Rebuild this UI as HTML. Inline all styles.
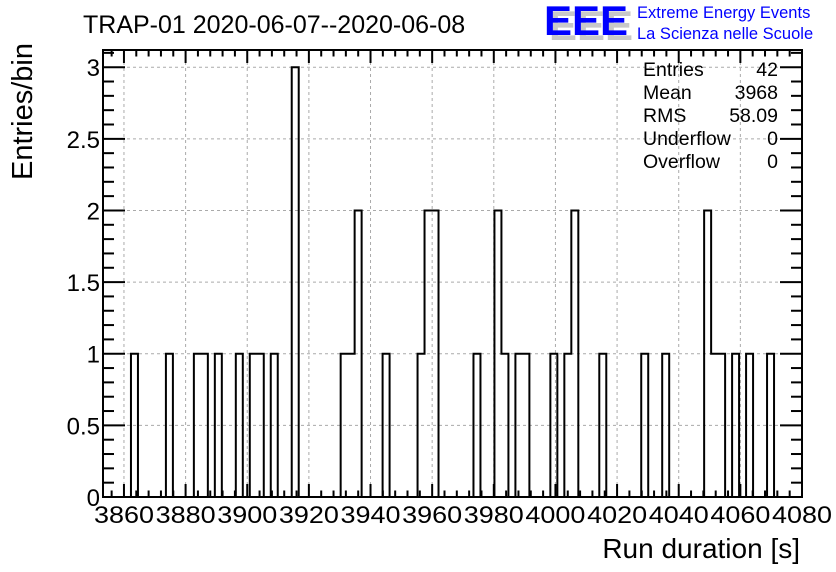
<!DOCTYPE html>
<html><head><meta charset="utf-8"><style>
html,body{margin:0;padding:0;background:#fff;}
svg{display:block;font-family:"Liberation Sans",sans-serif;}
</style></head><body>
<svg id="chart" width="836" height="572" viewBox="0 0 836 572">
<text x="83" y="33" font-size="25">TRAP-01 2020-06-07--2020-06-08</text>
<g>
<text x="549" y="40" font-size="42" font-weight="bold" fill="#c8c8c8">EEE</text>
<text x="544" y="35" font-size="42" font-weight="bold" fill="#0000ff">EEE</text>
<text x="637" y="18" font-size="16.5" fill="#0000ff">Extreme Energy Events</text>
<text x="637" y="39" font-size="16.5" fill="#0000ff">La Scienza nelle Scuole</text>
</g>
<g id="grid"></g>
<g id="ticks"></g>
<path id="hist" fill="none" stroke="#000" stroke-width="2"/>
<rect x="103" y="50" width="699" height="447" fill="none" stroke="#000" stroke-width="2"/>
<g id="labels"></g>
<text x="800" y="558" font-size="28" text-anchor="end">Run duration [s]</text>
<text transform="translate(32,43) rotate(-90)" font-size="29" text-anchor="end">Entries/bin</text>
<g id="stats" font-size="19.5"></g>
</svg>
<script>
const xMin = 3853.2, xMax = 4080, nBins = 100;
const yMax = 3.12;
const filledBins = [4,9,13,14,16,19,21,22,24,27,34,35,36,40,45,46,47,53,56,57,59,60,64,66,67,71,77,80,86,87,88,90,92,95];
const filledCounts = [1,1,1,1,1,1,1,1,1,3,1,1,2,1,1,2,2,1,2,1,1,1,1,1,2,1,1,1,2,1,1,1,1,1];
const xTickLabels = [3860,3880,3900,3920,3940,3960,3980,4000,4020,4040,4060,4080];
const yTickLabels = [0,0.5,1,1.5,2,2.5,3];
const statNames = ["Entries","Mean","RMS","Underflow","Overflow"];
const statValues = ["42","3968","58.09","0","0"];

const L=103,R=802,T=50,B=497;
const sx=v=>L+(v-xMin)/(xMax-xMin)*(R-L);
const sy=v=>B-v/yMax*(B-T);
const NS="http://www.w3.org/2000/svg";
function mk(tag,parent,attrs){const e=document.createElementNS(NS,tag);for(const k in attrs)e.setAttribute(k,attrs[k]);parent.appendChild(e);return e;}
const counts=new Array(nBins).fill(0);
filledBins.forEach((b,i)=>counts[b]=filledCounts[i]);
const bw=(xMax-xMin)/nBins;
let d="M"+sx(xMin)+","+sy(0);
for(let i=0;i<nBins;i++){d+=" L"+sx(xMin+i*bw)+","+sy(counts[i])+" L"+sx(xMin+(i+1)*bw)+","+sy(counts[i]);}
d+=" L"+sx(xMax)+","+sy(0);
document.getElementById('hist').setAttribute('d',d);

const grid=document.getElementById('grid'),ticks=document.getElementById('ticks'),labels=document.getElementById('labels');
xTickLabels.forEach(v=>{
  const x=sx(v);
  const g=mk('line',grid,{x1:x,x2:x,y1:T,y2:B,stroke:'#aaa','stroke-dasharray':'3,3','stroke-width':1});
  
  
  const t=mk('text',labels,{x:x,y:523,'font-size':24,'text-anchor':'middle',textLength:60,lengthAdjust:'spacingAndGlyphs'});
  t.textContent=v;
  
  
});
for(let v=3856;v<=4080;v+=4){
  const x=sx(v);const major=(v%20===0);const len=major?13:6.5;
  mk('line',ticks,{x1:x,x2:x,y1:B,y2:B-len,stroke:'#000','stroke-width':2});
  mk('line',ticks,{x1:x,x2:x,y1:T,y2:T+len,stroke:'#000','stroke-width':2});
}
yTickLabels.forEach(v=>{
  const y=sy(v);
  if(v>0){const g=mk('line',grid,{x1:L,x2:R,y1:y,y2:y,stroke:'#aaa','stroke-dasharray':'3,3','stroke-width':1});
  
  }
  const t=mk('text',labels,{x:100,y:y+9,'font-size':24,'text-anchor':'end'});
  t.textContent=v;
  
  
});
for(let k=0;k<=31;k++){
  const v=k/10;const y=sy(v);const major=(k%5===0);const len=major?22:11;
  mk('line',ticks,{x1:L,x2:L+len,y1:y,y2:y,stroke:'#000','stroke-width':2});
  mk('line',ticks,{x1:R,x2:R-len,y1:y,y2:y,stroke:'#000','stroke-width':2});
}
const stats=document.getElementById('stats');
statNames.forEach((n,i)=>{
  const y=76+i*23;
  const a=mk('text',stats,{x:643,y:y});a.textContent=n;
  
  
  const b=mk('text',stats,{x:778,y:y,'text-anchor':'end'});b.textContent=statValues[i];
  
  
});
</script>
</body></html>
